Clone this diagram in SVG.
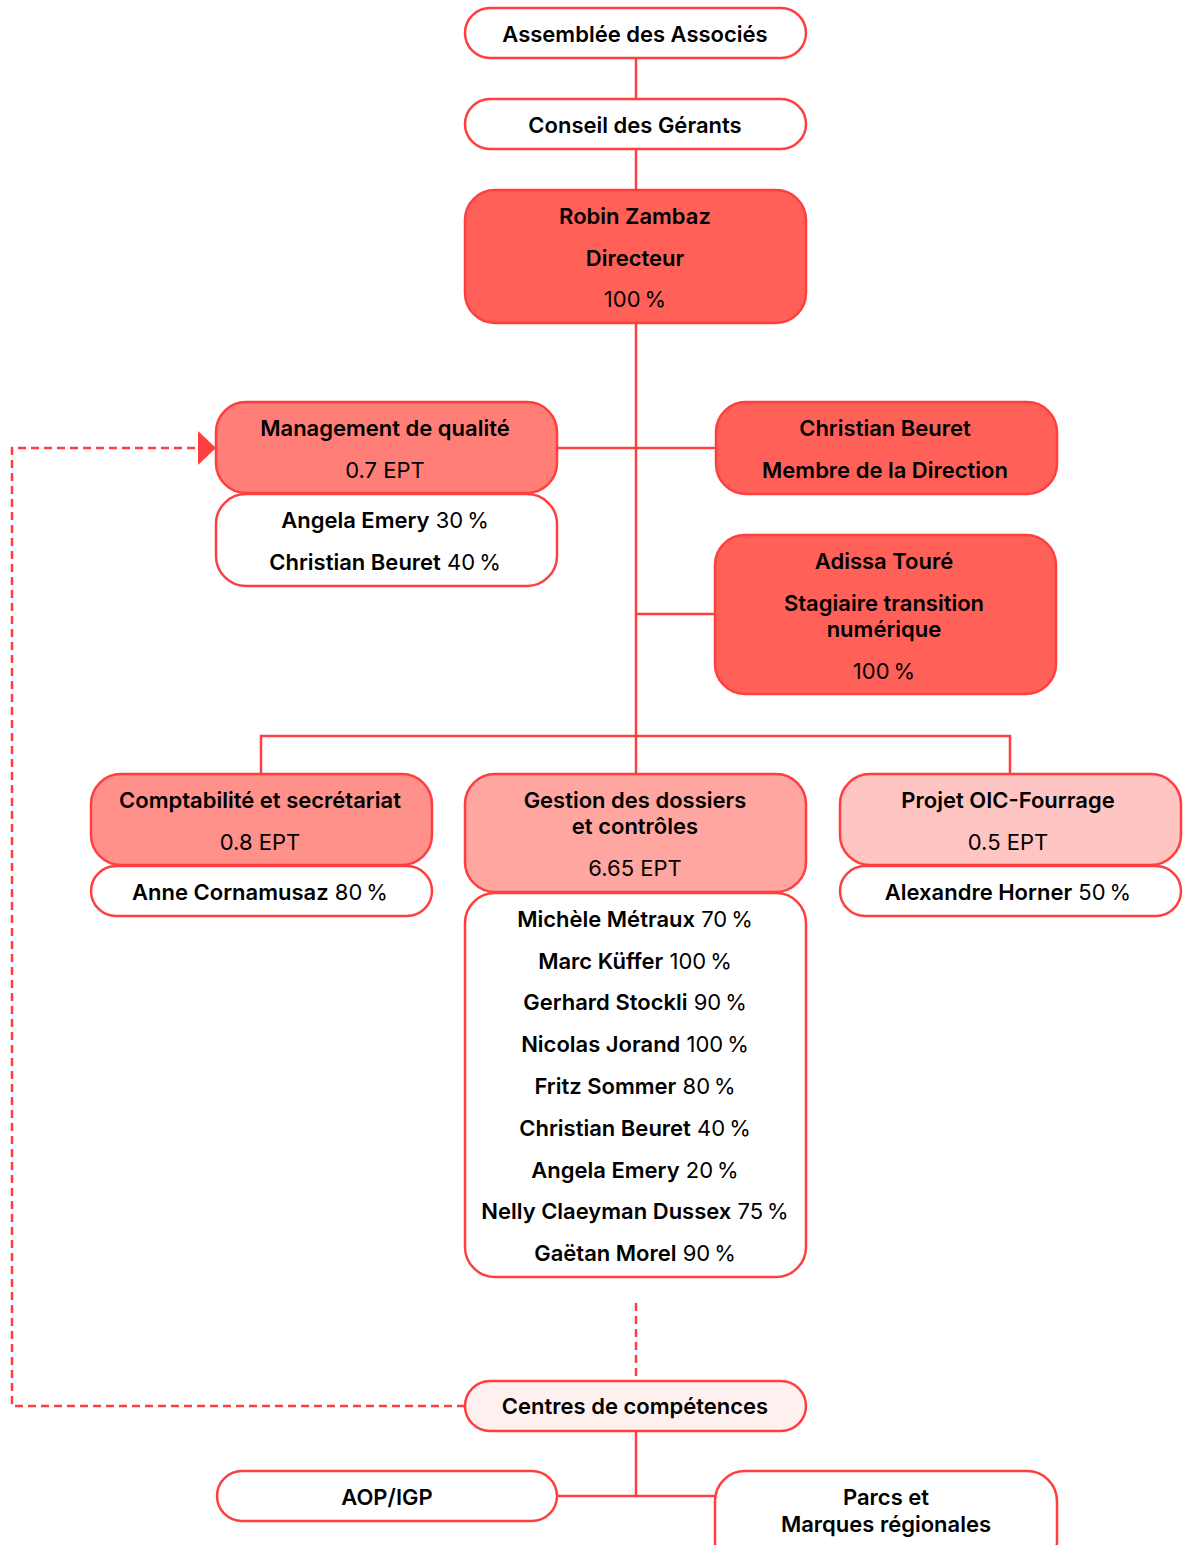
<svg xmlns="http://www.w3.org/2000/svg" width="1192" height="1545" viewBox="0 0 1192 1545">
<style>
  .box { stroke: #FF3F3F; stroke-width: 2.5; }
  .w { fill: #FFFFFF; }
  .c1 { fill: #FF6159; }
  .c2 { fill: #FF7F78; }
  .c3 { fill: #FF908A; }
  .c4 { fill: #FFA6A1; }
  .c5 { fill: #FFC5C2; }
  .c6 { fill: #FFF0F0; }
  text { font-family: Inter, "Noto Sans", "Liberation Sans", sans-serif; font-size: 22px; fill: #000; text-anchor: middle; }
  .b { font-weight: 600; }
  .r { font-weight: 400; }
  .line { stroke: #FF3F3F; stroke-width: 2.5; fill: none; }
  .dash { stroke: #FF3F3F; stroke-width: 2.5; fill: none; stroke-dasharray: 8 5; }
</style>
<defs>
  <marker id="arrow" viewBox="0 0 18 34" refX="18" refY="17" markerWidth="18" markerHeight="34" markerUnits="userSpaceOnUse" orient="auto">
    <path d="M0,0 L18,17 L0,34 Z" fill="#FF3F3F"/>
  </marker>
</defs>

<g id="connectors">
  <line class="line" x1="636" y1="58" x2="636" y2="99"/>
  <line class="line" x1="636" y1="149" x2="636" y2="190"/>
  <line class="line" x1="636" y1="323" x2="636" y2="774"/>
  <line class="line" x1="557" y1="448" x2="716" y2="448"/>
  <line class="line" x1="636" y1="614" x2="715" y2="614"/>
  <polyline class="line" points="261,774 261,736 1010,736 1010,774"/>
  <line class="dash" x1="636" y1="1303" x2="636" y2="1381"/>
  <polyline class="dash" points="465,1406 12,1406 12,448 216,448" marker-end="url(#arrow)"/>
  <line class="line" x1="636" y1="1431" x2="636" y2="1496"/>
  <line class="line" x1="557" y1="1496" x2="715" y2="1496"/>
</g>

<g id="assemblee">
  <rect class="box w" x="465" y="8" width="341" height="50" rx="25"/>
  <text class="b" x="635" y="42">Assemblée des Associés</text>
</g>

<g id="conseil">
  <rect class="box w" x="465" y="99" width="341" height="50" rx="25"/>
  <text class="b" x="635" y="133">Conseil des Gérants</text>
</g>

<g id="directeur">
  <rect class="box c1" x="465" y="190" width="341" height="133" rx="30"/>
  <text class="b" x="635" y="224">Robin Zambaz</text>
  <text class="b" x="635" y="266">Directeur</text>
  <text class="r" x="635" y="307">100&#x2009;%</text>
</g>

<g id="management">
  <rect class="box c2" x="216" y="402" width="341" height="91" rx="30"/>
  <rect class="box w" x="216" y="494" width="341" height="92" rx="30"/>
  <text class="b" x="385" y="436">Management de qualité</text>
  <text class="r" x="385" y="478">0.7 EPT</text>
  <text x="385" y="528"><tspan class="b">Angela Emery</tspan><tspan class="r"> 30&#x2009;%</tspan></text>
  <text x="385" y="570"><tspan class="b">Christian Beuret</tspan><tspan class="r"> 40&#x2009;%</tspan></text>
</g>

<g id="beuret">
  <rect class="box c1" x="716" y="402" width="341" height="92" rx="30"/>
  <text class="b" x="885" y="436">Christian Beuret</text>
  <text class="b" x="885" y="478">Membre de la Direction</text>
</g>

<g id="toure">
  <rect class="box c1" x="715" y="535" width="341" height="159" rx="30"/>
  <text class="b" x="884" y="569">Adissa Touré</text>
  <text class="b" x="884" y="611">Stagiaire transition</text>
  <text class="b" x="884" y="637">numérique</text>
  <text class="r" x="884" y="679">100&#x2009;%</text>
</g>

<g id="comptabilite">
  <rect class="box c3" x="91" y="774" width="341" height="91" rx="30"/>
  <rect class="box w" x="91" y="866" width="341" height="50" rx="25"/>
  <text class="b" x="260" y="808">Comptabilité et secrétariat</text>
  <text class="r" x="260" y="850">0.8 EPT</text>
  <text x="260" y="900"><tspan class="b">Anne Cornamusaz</tspan><tspan class="r"> 80&#x2009;%</tspan></text>
</g>

<g id="gestion">
  <rect class="box c4" x="465" y="774" width="341" height="118" rx="30"/>
  <rect class="box w" x="465" y="893" width="341" height="384" rx="30"/>
  <text class="b" x="635" y="808">Gestion des dossiers</text>
  <text class="b" x="635" y="834">et contrôles</text>
  <text class="r" x="635" y="876">6.65 EPT</text>
  <text x="635" y="927"><tspan class="b">Michèle Métraux</tspan><tspan class="r"> 70&#x2009;%</tspan></text>
  <text x="635" y="969"><tspan class="b">Marc Küffer</tspan><tspan class="r"> 100&#x2009;%</tspan></text>
  <text x="635" y="1010"><tspan class="b">Gerhard Stockli</tspan><tspan class="r"> 90&#x2009;%</tspan></text>
  <text x="635" y="1052"><tspan class="b">Nicolas Jorand</tspan><tspan class="r"> 100&#x2009;%</tspan></text>
  <text x="635" y="1094"><tspan class="b">Fritz Sommer</tspan><tspan class="r"> 80&#x2009;%</tspan></text>
  <text x="635" y="1136"><tspan class="b">Christian Beuret</tspan><tspan class="r"> 40&#x2009;%</tspan></text>
  <text x="635" y="1178"><tspan class="b">Angela Emery</tspan><tspan class="r"> 20&#x2009;%</tspan></text>
  <text x="635" y="1219"><tspan class="b">Nelly Claeyman Dussex</tspan><tspan class="r"> 75&#x2009;%</tspan></text>
  <text x="635" y="1261"><tspan class="b">Gaëtan Morel</tspan><tspan class="r"> 90&#x2009;%</tspan></text>
</g>

<g id="projet">
  <rect class="box c5" x="840" y="774" width="341" height="91" rx="30"/>
  <rect class="box w" x="840" y="866" width="341" height="50" rx="25"/>
  <text class="b" x="1008" y="808">Projet OIC-Fourrage</text>
  <text class="r" x="1008" y="850">0.5 EPT</text>
  <text x="1008" y="900"><tspan class="b">Alexandre Horner</tspan><tspan class="r"> 50&#x2009;%</tspan></text>
</g>

<g id="centres">
  <rect class="box c6" x="465" y="1381" width="341" height="50" rx="25"/>
  <text class="b" x="635" y="1414">Centres de compétences</text>
</g>

<g id="aop">
  <rect class="box w" x="217" y="1471" width="340" height="50" rx="25"/>
  <text class="b" x="387" y="1505">AOP/IGP</text>
</g>

<g id="parcs">
  <rect class="box w" x="715" y="1471" width="342" height="100" rx="30"/>
  <text class="b" x="886" y="1505">Parcs et</text>
  <text class="b" x="886" y="1532">Marques régionales</text>
</g>
</svg>
